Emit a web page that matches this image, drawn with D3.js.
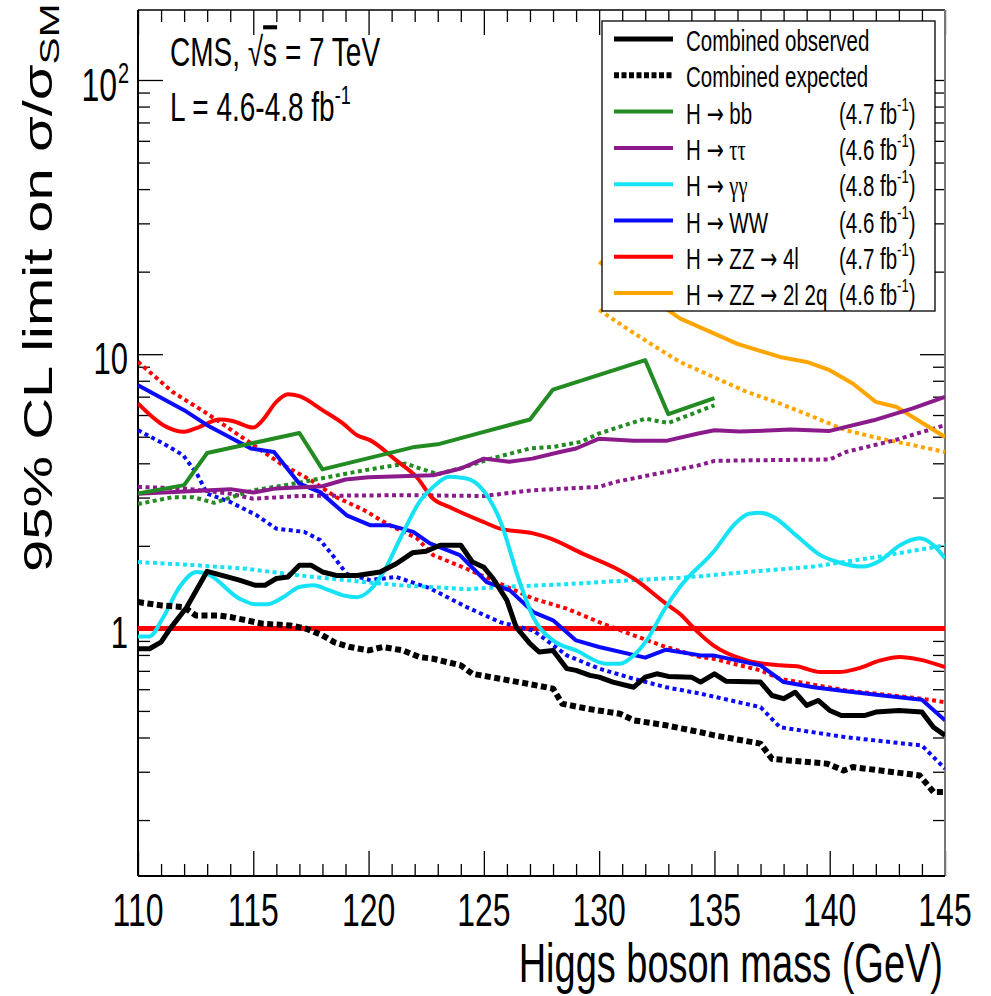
<!DOCTYPE html>
<html><head><meta charset="utf-8">
<script src="https://cdn.jsdelivr.net/npm/d3@7"></script>
<style>body{margin:0;background:#fff}svg{display:block}</style>
</head><body>
<script>
// ---------- data ----------
const massRange = [110, 145];
const limitRange = [0.125, 180];
const xTickLabels = [110, 115, 120, 125, 130, 135, 140, 145];
const yTickLabels = [1, 10, 100];
const smLine = [[110, 1], [145, 1]];

const combObs = [[110,0.843],[110.5,0.843],[111,0.891],[111.4,1.0],[112.1,1.19],[113,1.615],[114.4,1.50],[115.1,1.435],[115.5,1.435],[116,1.52],[116.5,1.54],[117,1.70],[117.5,1.70],[118,1.606],[118.6,1.56],[119.5,1.56],[120.5,1.606],[121.2,1.72],[121.9,1.886],[122.5,1.91],[123.1,2.01],[124,2.01],[124.5,1.746],[125,1.67],[125.4,1.52],[126,1.265],[126.4,1.011],[127,0.88],[127.4,0.82],[128,0.831],[128.6,0.713],[129,0.703],[129.6,0.674],[130,0.664],[130.6,0.637],[131.5,0.61],[132,0.664],[132.5,0.683],[133,0.668],[134,0.664],[134.4,0.637],[135,0.683],[135.5,0.642],[137,0.637],[137.5,0.569],[138,0.554],[138.5,0.585],[139,0.524],[139.5,0.546],[140,0.502],[140.5,0.481],[141.5,0.481],[142,0.495],[143,0.502],[144,0.495],[144.5,0.436],[145,0.407]];
const combExp = [[110,1.247],[111,1.213],[112,1.196],[112.5,1.115],[113.5,1.115],[114,1.10],[114.7,1.07],[115.4,1.04],[116.6,1.025],[117.3,0.997],[118,0.943],[118.5,0.891],[119.2,0.855],[120,0.831],[120.6,0.855],[121.5,0.831],[122.2,0.786],[122.8,0.775],[124,0.733],[124.5,0.683],[125.7,0.655],[126.9,0.628],[128,0.603],[128.4,0.531],[129.5,0.509],[130.9,0.488],[131.5,0.462],[132.9,0.443],[134.4,0.418],[135,0.407],[137,0.38],[137.5,0.334],[139.9,0.321],[140.6,0.303],[141,0.312],[143.9,0.291],[144.5,0.253],[145,0.253]];

const bbObs = [[110,3.10],[112,3.33],[113,4.36],[117,5.16],[118,3.80],[122,4.59],[123,4.69],[125,5.21],[127,5.78],[128,7.43],[132,9.51],[133,6.04],[135,6.91]];
const bbExp = [[110,2.84],[111.5,3.01],[112.4,3.01],[113.3,2.87],[115,3.19],[116.4,3.33],[118.3,3.57],[119.8,3.77],[121.6,3.99],[123,3.65],[124.2,3.88],[125.3,4.16],[127,4.53],[128,4.59],[129.2,4.79],[130,5.14],[132,5.82],[133,5.61],[135,6.51]];

const ttObs = [[110,3.10],[114,3.22],[115,3.13],[116,3.24],[118,3.30],[119,3.49],[120,3.56],[121.4,3.59],[122.8,3.62],[124,3.83],[125,4.16],[126.1,4.05],[127.1,4.16],[128.3,4.40],[129,4.53],[130,4.92],[131.5,4.83],[132.9,4.83],[134.3,5.14],[135,5.28],[136.1,5.22],[138.3,5.31],[140,5.25],[141.9,5.74],[143.6,6.34],[145,6.98]];
const ttExp = [[110,3.28],[112,3.24],[114,3.10],[115,2.97],[117,3.04],[121.4,3.06],[125,3.04],[127.1,3.19],[130,3.28],[130.7,3.42],[132.9,3.72],[134.3,3.93],[135,4.08],[136.4,4.10],[140,4.13],[140.7,4.40],[142.8,4.85],[145,5.51]];

const ggObs = [[110,0.935],[110.5,0.935],[111.1,1.10],[111.8,1.415],[112.55,1.606],[113,1.58],[114.4,1.284],[115.1,1.224],[115.6,1.224],[116.3,1.30],[117,1.415],[117.6,1.435],[118.3,1.376],[118.9,1.32],[119.5,1.30],[120.05,1.376],[120.6,1.58],[121.4,2.15],[122.25,2.93],[122.8,3.28],[123.5,3.57],[124.25,3.52],[124.97,3.19],[125.7,2.48],[126.56,1.47],[127.14,1.10],[128,0.904],[129,0.831],[130.3,0.743],[130.9,0.743],[131.5,0.797],[132.06,0.904],[132.8,1.16],[133.5,1.415],[134.95,1.90],[135.96,2.44],[136.5,2.62],[137,2.64],[137.55,2.55],[138.56,2.18],[139.6,1.85],[140.3,1.75],[141.45,1.68],[142.2,1.77],[143.05,2.01],[143.9,2.13],[144.5,2.01],[145,1.80]];
const ggExp = [[110,1.746],[112.5,1.70],[114.7,1.65],[117,1.56],[119.8,1.476],[121.4,1.435],[122.7,1.415],[124.3,1.39],[125.7,1.415],[128.6,1.45],[131.5,1.50],[133.5,1.53],[134.4,1.55],[136.4,1.606],[139.3,1.68],[142.2,1.83],[145,2.01]];

const wwObs = [[110,7.71],[112,6.25],[113,5.51],[114.9,4.53],[115.9,4.40],[117,3.37],[117.9,3.14],[119.05,2.585],[120.06,2.38],[120.9,2.38],[121.94,2.25],[122.66,2.04],[123.96,1.85],[125.12,1.476],[126.13,1.376],[127.14,1.147],[128,1.07],[129,0.904],[130,0.855],[132,0.782],[132.9,0.836],[134.4,0.797],[134.95,0.797],[137,0.733],[138,0.637],[139.3,0.61],[140.7,0.59],[142.2,0.57],[144,0.549],[145,0.462]];
const wwExp = [[110,5.28],[111.1,4.72],[111.96,4.28],[112.55,3.67],[113,3.10],[114,2.89],[115.15,2.585],[116,2.31],[117.2,2.25],[117.9,2.10],[118.5,1.82],[119.05,1.58],[120.06,1.50],[121.2,1.54],[122.66,1.40],[124.25,1.196],[125.7,1.054],[127.14,0.983],[128.6,0.797],[130,0.713],[131.5,0.655],[132.9,0.61],[134.4,0.578],[137,0.516],[137.84,0.436],[140.7,0.401],[144,0.374],[145,0.308]];

const zzObs = [[110,6.61],[111.1,5.51],[112,5.21],[112.5,5.36],[113.55,5.78],[114.1,5.71],[115,5.40],[115.4,5.74],[116,6.70],[116.5,7.15],[117,7.03],[118,6.25],[118.9,5.58],[119.5,5.06],[120.06,4.86],[121.2,4.10],[122.1,3.55],[122.8,2.97],[123.5,2.77],[125,2.44],[125.7,2.31],[127.14,2.22],[127.87,2.13],[129.3,1.87],[130.76,1.65],[131.5,1.52],[132.9,1.23],[133.5,1.13],[134.2,0.983],[134.95,0.867],[136.4,0.764],[137.84,0.733],[138.56,0.727],[139.6,0.693],[140.4,0.693],[141.2,0.713],[142.2,0.764],[143.05,0.786],[143.9,0.769],[145,0.722]];
const zzExp = [[110,9.38],[111.5,7.28],[113,6.07],[114.6,4.92],[116.2,3.98],[117.5,3.47],[118.6,3.01],[119.8,2.70],[120.9,2.38],[122.1,2.13],[122.8,1.85],[124.25,1.65],[125.7,1.456],[127.14,1.284],[128.6,1.18],[130,1.054],[131.5,0.943],[132.9,0.855],[134.4,0.786],[134.95,0.775],[137,0.703],[137.84,0.655],[140.7,0.594],[144,0.554],[145,0.538]];

const qqObs = [[130,21.7],[133.5,13.5],[136,10.9],[137.84,9.77],[139,9.37],[140,8.74],[141,7.82],[142,6.70],[142.9,6.42],[143.6,5.90],[145,4.99]];
const qqExp = [[130,14.5],[131.33,12.2],[132.9,10.06],[133.5,9.37],[134.95,8.26],[136.4,7.29],[137.84,6.61],[139.3,5.90],[140.7,5.28],[142.2,4.92],[143.6,4.66],[145,4.40]];

// legend names as segments: plain text, "→" arrows and Greek letters
const legendNames = [
  ["Combined observed"],
  ["Combined expected"],
  ["H ", "\u2192", " bb"],
  ["H ", "\u2192", " ", "\u03C4\u03C4"],
  ["H ", "\u2192", " ", "\u03B3\u03B3"],
  ["H ", "\u2192", " WW"],
  ["H ", "\u2192", " ZZ ", "\u2192", " 4l"],
  ["H ", "\u2192", " ZZ ", "\u2192", " 2l 2q"]
];
const legendLumi = [null, null, "4.7", "4.6", "4.8", "4.6", "4.7", "4.6"];

// ---------- drawing ----------
const W = 991, H = 996, S = 1.45;
const FONT = "'Liberation Sans', Arial, Helvetica, sans-serif";
const ARROWFONT = "'DejaVu Sans', sans-serif";
const GREEKFONT = "'Liberation Serif', 'DejaVu Serif', serif";
const C = {black:"#000", green:"#228b22", purple:"#8b1a8b", cyan:"#15e3f5", blue:"#0a0aff", red:"#ff0000", orange:"#ffa500"};

const svg = d3.select("body").append("svg").attr("width", W).attr("height", H);
const x = d3.scaleLinear().domain(massRange).range([138, 945]);
const y = d3.scaleLog().domain(limitRange).range([876, 10]);
const [X0, X1] = x.range(), [Y0, Y1] = y.range();

function stext(parent, px, py, size, anchor, extra) {
  return parent.append("text")
    .attr("transform", `translate(${px},${py}) scale(1,${S})` + (extra || ""))
    .attr("font-family", FONT).attr("font-size", size).attr("text-anchor", anchor).attr("fill", "#000");
}

svg.append("defs").append("clipPath").attr("id", "plotclip")
  .append("rect").attr("x", X0).attr("y", Y1).attr("width", X1 - X0).attr("height", Y0 - Y1);

// axes ticks (inward, mirrored)
const majX = d3.range(110, 146, 5), minX = d3.range(110, 146, 1).filter(v => v % 5 !== 0);
const yMinorVals = [];
[0.1, 1, 10, 100].forEach(d => { for (let k = 2; k <= 9; k++) { const v = k * d; if (v > limitRange[0] && v < limitRange[1]) yMinorVals.push(v); } });

function axisG(axis, tx, ty, color) {
  const g = svg.append("g").attr("transform", `translate(${tx},${ty})`).call(axis);
  g.select(".domain").remove();
  g.selectAll("text").remove();
  g.selectAll("line").attr("stroke", color || "#000").attr("stroke-width", 1.3);
  return g;
}
axisG(d3.axisBottom(x).tickValues(majX).tickSize(-25), 0, Y0);
axisG(d3.axisBottom(x).tickValues(minX).tickSize(-12), 0, Y0);
axisG(d3.axisTop(x).tickValues(majX).tickSize(-25), 0, Y1);
axisG(d3.axisTop(x).tickValues(minX).tickSize(-12), 0, Y1);
axisG(d3.axisLeft(y).tickValues(yTickLabels).tickSize(-25), X0, 0);
axisG(d3.axisLeft(y).tickValues(yMinorVals).tickSize(-12), X0, 0);
axisG(d3.axisRight(y).tickValues(yTickLabels).tickSize(-25), X1, 0);
axisG(d3.axisRight(y).tickValues(yMinorVals).tickSize(-12), X1, 0);

// frame
svg.append("line").attr("x1", X0).attr("x2", X1).attr("y1", Y1).attr("y2", Y1).attr("stroke", "#000").attr("stroke-width", 1.5);
svg.append("line").attr("x1", X1).attr("x2", X1).attr("y1", Y1).attr("y2", Y0).attr("stroke", "#777").attr("stroke-width", 2);
svg.append("line").attr("x1", X0).attr("x2", X1).attr("y1", Y0).attr("y2", Y0).attr("stroke", "#000").attr("stroke-width", 2);
svg.append("line").attr("x1", X0).attr("x2", X0).attr("y1", Y1).attr("y2", Y0).attr("stroke", "#000").attr("stroke-width", 2);

// tick labels
xTickLabels.forEach(v => stext(svg, x(v), 926, 32, "middle").text(v));
yTickLabels.forEach(v => {
  if (v === 100) {
    stext(svg, 117, y(v) + 21, 32, "end").text("10");
    stext(svg, 118, y(v) + 3, 20, "start").text("2");
  } else {
    stext(svg, 128, y(v) + 20, 31, "end").text(v);
  }
});

// axis titles
stext(svg, 943, 982, 38, "end").text("Higgs boson mass (GeV)");
const yt = svg.append("text")
  .attr("transform", `translate(52,572) scale(1,${S}) rotate(-90)`)
  .attr("font-family", FONT).attr("font-size", 40).attr("text-anchor", "start");
yt.append("tspan").text("95% CL limit on \u03C3/\u03C3");
yt.append("tspan").attr("font-size", 28).attr("dy", 7).text("SM");

// CMS labels
const cms = stext(svg, 170, 66, 28, "start");
cms.append("tspan").text("CMS, \u221A");
cms.append("tspan").attr("text-decoration", "overline").text("s");
cms.append("tspan").text(" = 7 TeV");
const lum = stext(svg, 170, 121, 28, "start");
lum.append("tspan").text("L = 4.6-4.8 fb");
lum.append("tspan").attr("font-size", 18).attr("dy", -12).text("-1");

// curves
const plot = svg.append("g").attr("clip-path", "url(#plotclip)");
const lineLin = d3.line().x(d => x(d[0])).y(d => y(d[1]));
const lineSmooth = d3.line().x(d => x(d[0])).y(d => y(d[1])).curve(d3.curveMonotoneX);

const curves = [
  {d: smLine, c: C.red, w: 5, gen: lineLin},
  {d: qqExp, c: C.orange, w: 4, dash: "4,3.5", gen: lineLin},
  {d: zzExp, c: C.red, w: 4, dash: "4,3.5", gen: lineLin},
  {d: wwExp, c: C.blue, w: 4, dash: "4,3.5", gen: lineLin},
  {d: ggExp, c: C.cyan, w: 4, dash: "4,3.5", gen: lineLin},
  {d: ttExp, c: C.purple, w: 4, dash: "4,3.5", gen: lineLin},
  {d: bbExp, c: C.green, w: 4, dash: "4,3.5", gen: lineLin},
  {d: qqObs, c: C.orange, w: 4, gen: lineLin},
  {d: zzObs, c: C.red, w: 4, gen: lineSmooth},
  {d: wwObs, c: C.blue, w: 4, gen: lineLin},
  {d: ggObs, c: C.cyan, w: 4, gen: lineSmooth},
  {d: ttObs, c: C.purple, w: 4, gen: lineLin},
  {d: bbObs, c: C.green, w: 4, gen: lineLin},
  {d: combExp, c: C.black, w: 6, dash: "6,3.5", gen: lineLin},
  {d: combObs, c: C.black, w: 5, gen: lineLin}
];
curves.forEach(s => {
  plot.append("path").attr("d", s.gen(s.d)).attr("fill", "none")
    .attr("stroke", s.c).attr("stroke-width", s.w)
    .attr("stroke-dasharray", s.dash || null).attr("stroke-linejoin", "round");
});

// legend
const lg = svg.append("g");
lg.append("rect").attr("x", 602).attr("y", 21).attr("width", 333).attr("height", 290)
  .attr("fill", "#fff").attr("stroke", "#000").attr("stroke-width", 1.3);
const legendStyle = [
  {c: C.black, w: 5}, {c: C.black, w: 6, dash: "5,2.5"}, {c: C.green, w: 4}, {c: C.purple, w: 4},
  {c: C.cyan, w: 4}, {c: C.blue, w: 4}, {c: C.red, w: 4}, {c: C.orange, w: 4}
];
legendNames.forEach((segs, i) => {
  const cy = 39 + i * 36.3;
  const st = legendStyle[i];
  lg.append("line").attr("x1", 614).attr("x2", 673).attr("y1", cy).attr("y2", cy)
    .attr("stroke", st.c).attr("stroke-width", st.w).attr("stroke-dasharray", st.dash || null);
  const t = stext(lg, 686, cy + 12, 20.5, "start").attr("xml:space", "preserve").style("white-space", "pre");
  segs.forEach(sg => {
    const ts = t.append("tspan").text(sg);
    if (sg === "\u2192") ts.attr("font-family", ARROWFONT).attr("font-size", 20.5);
    else if (/[\u03B3\u03C4]/.test(sg)) ts.attr("font-family", GREEKFONT).attr("font-size", 20.5);
  });
  if (legendLumi[i]) {
    const tl = stext(lg, 839, cy + 12, 20.5, "start");
    tl.append("tspan").text("(" + legendLumi[i] + " fb");
    tl.append("tspan").attr("font-size", 13).attr("dy", -9).text("-1");
    tl.append("tspan").attr("dy", 9).text(")");
  }
});
</script>
</body></html>
